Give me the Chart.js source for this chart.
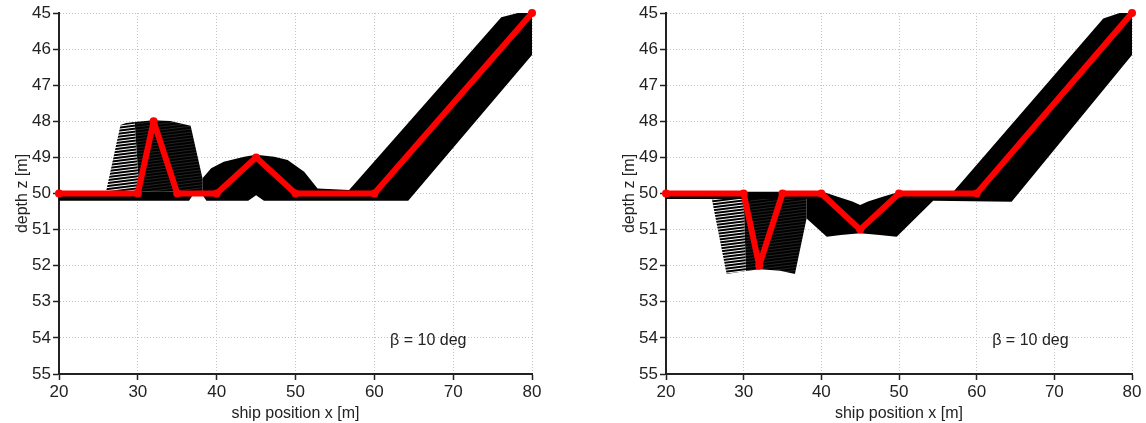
<!DOCTYPE html>
<html>
<head>
<meta charset="utf-8">
<script src="https://cdn.jsdelivr.net/npm/chart.js@4.4.1/dist/chart.umd.min.js"></script>
<style>
  body { margin: 0; background: #fff; }
  #wrap { position: relative; width: 1146px; height: 423px; overflow: hidden; }
  #left { position: absolute; left: 0; top: 0; }
  #right { position: absolute; left: 607px; top: 0; }
</style>
</head>
<body>
<div id="wrap">
  <canvas id="left" width="560" height="423"></canvas>
  <canvas id="right" width="539" height="423"></canvas>
</div>
<script>
// seabed profile (red), both panels share the x positions
var shipX = [20, 30, 32, 35, 40, 45, 50, 60, 80];
var depthLeft = [50, 50, 48, 50, 50, 49, 50, 50, 45];
var depthRight = [50, 50, 52, 50, 50, 51, 50, 50, 45];

var xTicks = [20, 30, 40, 50, 60, 70, 80];
var yTicks = [45, 46, 47, 48, 49, 50, 51, 52, 53, 54, 55];
var betaLabel = 'β = 10 deg';

// beam footprint outlines, left panel (bump)
var leftSolidX = [20, 38.2, 38.2, 39.3, 40.9, 43.5, 45, 47.3, 49.0, 51.1, 52.8, 56.8, 76.1, 78.2, 80, 80, 64.3, 46, 45, 44, 38.7, 38.3, 37.6, 36.9, 36.5, 20];
var leftSolidZ = [49.95, 49.95, 49.58, 49.3, 49.12, 48.98, 48.93, 48.98, 49.07, 49.4, 49.86, 49.9, 45.12, 45.0, 45.0, 46.16, 50.2, 50.2, 50.05, 50.2, 50.2, 50.07, 50.02, 50.07, 50.2, 50.2];
var leftHatchAX = [26.0, 27.8, 28.6, 29.6, 30.2];
var leftHatchAZ = [49.92, 48.1, 48.04, 48.02, 49.95];
var leftHatchBX = [29.6, 32, 34.1, 36.7, 37.5, 38.2, 38.2, 30.2];
var leftHatchBZ = [48.02, 47.97, 47.99, 48.12, 48.9, 49.58, 49.95, 49.95];

// beam footprint outlines, right panel (trough)
var rightSolidX = [20, 40.2, 42, 44, 45, 46, 48, 50.1, 57.0, 76.3, 78.4, 80, 80, 64.5, 54.4, 49.7, 47.5, 45, 42.5, 40.7, 38.1, 38.1, 20];
var rightSolidZ = [49.95, 49.95, 50.08, 50.22, 50.32, 50.22, 50.08, 49.95, 49.95, 45.15, 45.0, 45.0, 46.16, 50.23, 50.2, 51.2, 51.15, 51.1, 51.15, 51.2, 50.69, 50.15, 50.15];
var rightHatchAX = [25.9, 30.0, 30.3, 27.8];
var rightHatchAZ = [50.15, 50.15, 52.15, 52.23];
var rightHatchBX = [30.0, 38.1, 38.1, 36.6, 34.7, 32.1, 30.3];
var rightHatchBZ = [50.15, 50.15, 50.69, 52.23, 52.14, 52.1, 52.15];

function pts(xs, zs) {
    var out = [];
    for (var i = 0; i < xs.length; i++) {
        out.push({ x: xs[i], y: zs[i] });
    }
    return out;
}

function stripes(gap, color, w) {
    var c = document.createElement('canvas');
    c.width = 24;
    c.height = gap;
    var g = c.getContext('2d');
    g.fillStyle = '#000';
    g.fillRect(0, 0, 24, gap);
    g.strokeStyle = color;
    g.lineWidth = w;
    for (var k = -1; k <= 1; k++) {
        g.beginPath();
        g.moveTo(0, gap * (k + 1));
        g.lineTo(24, gap * k);
        g.stroke();
    }
    return g.createPattern(c, 'repeat');
}

var sparse = stripes(3, '#fff', 1);
var dense = stripes(3, '#3a3a3a', 0.6);

function shape(data, fillStyle) {
    return {
        data: data,
        borderWidth: 0,
        borderColor: 'rgba(0,0,0,0)',
        backgroundColor: fillStyle,
        pointRadius: 0,
        fill: 'shape',
        tension: 0
    };
}

var betaText = {
    id: 'betaText',
    afterDatasetsDraw: function(chart) {
        var ctx = chart.ctx;
        ctx.save();
        ctx.font = '16px "Liberation Sans", Arial, sans-serif';
        ctx.fillStyle = '#222';
        ctx.textAlign = 'left';
        ctx.textBaseline = 'middle';
        ctx.fillText(betaLabel, chart.scales.x.getPixelForValue(62), chart.scales.y.getPixelForValue(54.08));
        ctx.restore();
    }
};

function makeChart(id, depth, solid, hatchA, hatchB, padRight) {
    var font = { family: '"Liberation Sans", Arial, sans-serif', size: 17 };
    var titleFont = { family: '"Liberation Sans", Arial, sans-serif', size: 16 };
    return new Chart(document.getElementById(id), {
        type: 'line',
        data: {
            datasets: [{
                data: pts(shipX, depth),
                borderColor: '#ff0000',
                borderWidth: 6,
                borderJoinStyle: 'round',
                borderCapStyle: 'round',
                pointRadius: 4,
                pointBackgroundColor: '#ff0000',
                pointBorderWidth: 0,
                tension: 0,
                fill: false,
                clip: false
            },
            shape(hatchB, dense),
            shape(hatchA, sparse),
            shape(solid, '#000')]
        },
        plugins: [betaText],
        options: {
            responsive: false,
            animation: false,
            devicePixelRatio: 1,
            layout: { padding: { left: 0, right: padRight, top: 13, bottom: 0 } },
            plugins: { legend: { display: false }, tooltip: { enabled: false } },
            scales: {
                x: {
                    type: 'linear',
                    min: 20,
                    max: 80,
                    afterBuildTicks: function(s) { s.ticks = xTicks.map(function(v) { return { value: v }; }); },
                    afterFit: function(s) { s.height = 49; },
                    grid: { color: '#c4c4c4', lineWidth: 1, tickColor: '#222', tickLength: 6, tickWidth: 1.5 },
                    border: { color: '#222', width: 2, dash: [1, 2] },
                    ticks: { color: '#222', font: font, padding: 2, maxRotation: 0 },
                    title: { display: true, text: 'ship position x [m]', color: '#222', font: titleFont, padding: { top: 0, bottom: 0 } }
                },
                y: {
                    type: 'linear',
                    reverse: true,
                    min: 45,
                    max: 55,
                    afterBuildTicks: function(s) { s.ticks = yTicks.map(function(v) { return { value: v }; }); },
                    afterFit: function(s) { s.width = 59; },
                    grid: { color: '#c4c4c4', lineWidth: 1, tickColor: '#222', tickLength: 6, tickWidth: 1.5 },
                    border: { color: '#222', width: 2, dash: [1, 2] },
                    ticks: { color: '#222', font: font, padding: 2 },
                    title: { display: true, text: 'depth z [m]', color: '#222', font: titleFont, padding: { top: 13, bottom: 0 } }
                }
            }
        }
    });
}

makeChart('left', depthLeft, pts(leftSolidX, leftSolidZ), pts(leftHatchAX, leftHatchAZ), pts(leftHatchBX, leftHatchBZ), 28);
makeChart('right', depthRight, pts(rightSolidX, rightSolidZ), pts(rightHatchAX, rightHatchAZ), pts(rightHatchBX, rightHatchBZ), 14);
</script>
</body>
</html>
